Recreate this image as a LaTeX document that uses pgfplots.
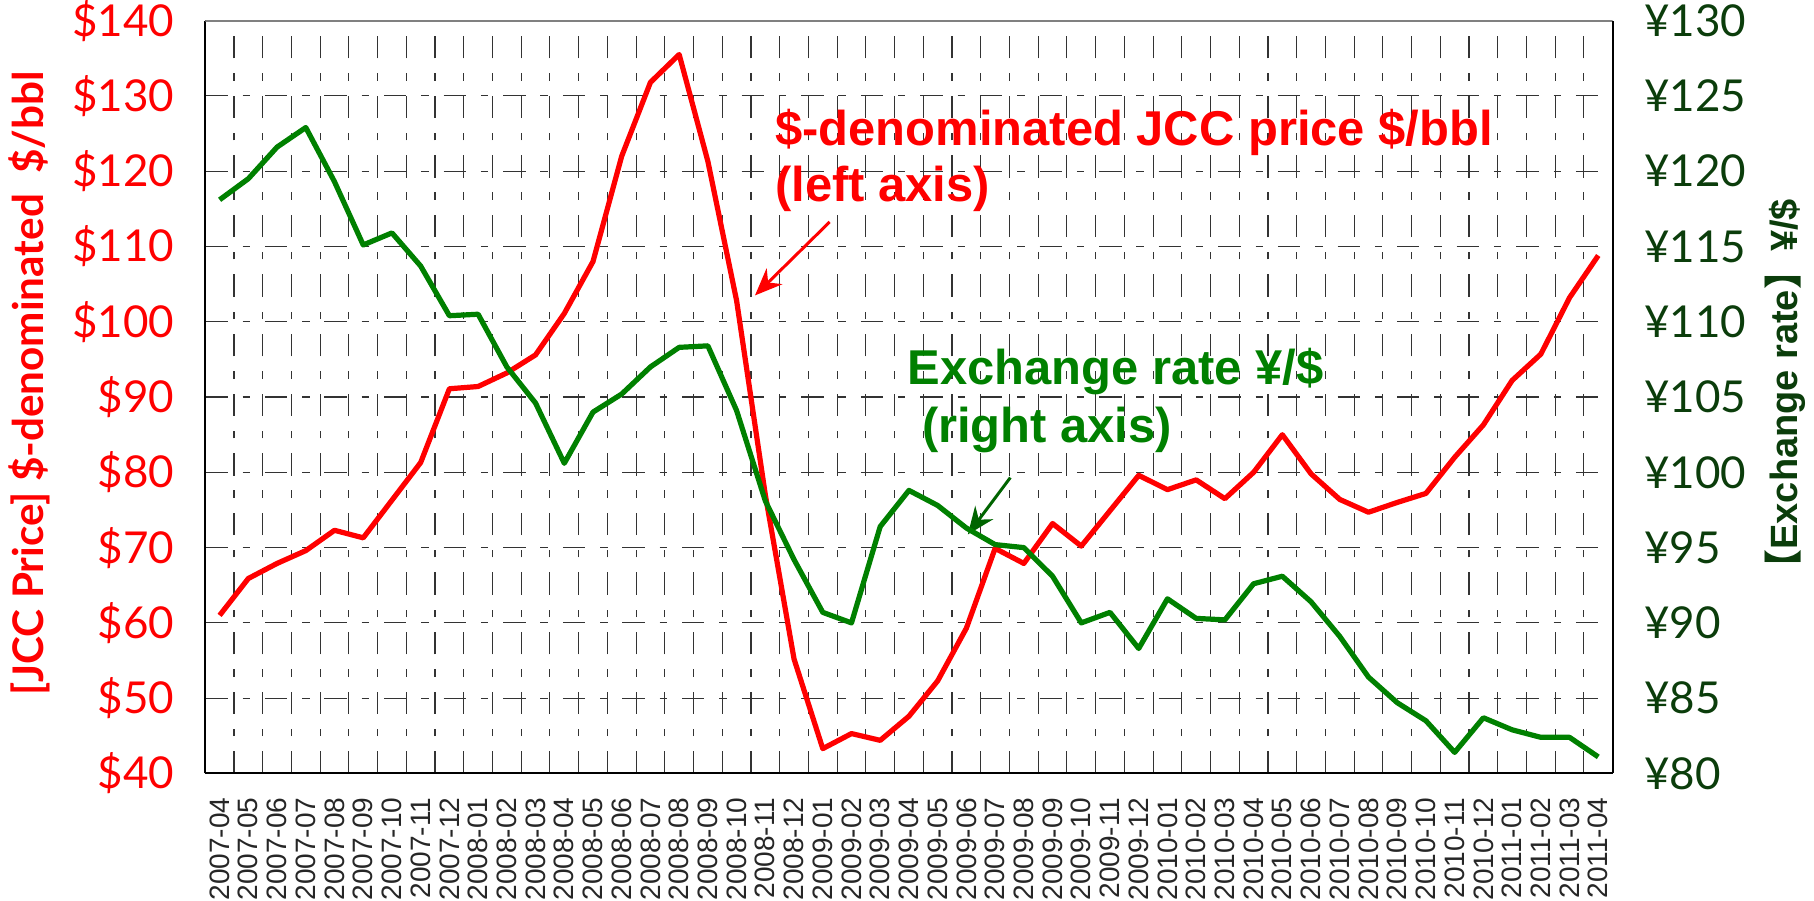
\documentclass[border=0pt]{standalone}
\usepackage{pgfplots}
\usepackage{pgfplotstable}
\pgfplotsset{compat=1.18}
\usetikzlibrary{arrows.meta}
\usepackage{fontspec}
\setmainfont{Liberation Sans}
\newfontfamily\lato{Lato}
\newfontfamily\cjk{Noto Sans CJK JP}
\definecolor{jccred}{HTML}{FF0000}
\definecolor{fxgreen}{HTML}{008000}
\definecolor{fxtick}{HTML}{0B3D0B}
\definecolor{fxarrow}{HTML}{006400}
\definecolor{gridc}{HTML}{333333}

% monthly JCC price ($/bbl) and yen/dollar rate
\pgfplotstableread{
idx month jcc fx
0 2007-04 61.0 118.1
1 2007-05 65.9 119.5
2 2007-06 67.9 121.6
3 2007-07 69.6 122.9
4 2007-08 72.3 119.3
5 2007-09 71.3 115.1
6 2007-10 76.3 115.9
7 2007-11 81.3 113.7
8 2007-12 91.1 110.4
9 2008-01 91.4 110.5
10 2008-02 93.2 107.0
11 2008-03 95.6 104.6
12 2008-04 101.1 100.6
13 2008-05 108.0 104.0
14 2008-06 122.0 105.2
15 2008-07 131.8 107.0
16 2008-08 135.5 108.3
17 2008-09 121.3 108.4
18 2008-10 102.8 104.1
19 2008-11 77.0 98.1
20 2008-12 55.2 94.2
21 2009-01 43.3 90.7
22 2009-02 45.3 90.0
23 2009-03 44.4 96.4
24 2009-04 47.6 98.8
25 2009-05 52.3 97.8
26 2009-06 59.3 96.3
27 2009-07 69.9 95.2
28 2009-08 67.9 95.0
29 2009-09 73.2 93.1
30 2009-10 70.2 90.0
31 2009-11 74.9 90.7
32 2009-12 79.6 88.3
33 2010-01 77.7 91.6
34 2010-02 79.0 90.3
35 2010-03 76.5 90.2
36 2010-04 80.0 92.6
37 2010-05 85.0 93.1
38 2010-06 79.8 91.4
39 2010-07 76.4 89.1
40 2010-08 74.7 86.4
41 2010-09 76.0 84.7
42 2010-10 77.2 83.5
43 2010-11 82.0 81.4
44 2010-12 86.3 83.7
45 2011-01 92.2 82.9
46 2011-02 95.7 82.4
47 2011-03 103.2 82.4
48 2011-04 108.8 81.1
}\data

\tikzset{gridline/.style={gridc, line width=0.45pt,
  dash pattern=on 9pt off 6pt on 3pt off 6pt},
  note/.style={anchor=base west, font=\bfseries\fontsize{19.7}{22.8}\selectfont}}

\begin{document}
\begin{tikzpicture}
\begin{axis}[
    scale only axis,
    width=566.8pt, height=303.2pt,
    xmin=-0.5, xmax=48.5,
    ymin=40, ymax=140,
    axis x line*=bottom,
    axis y line*=left,
    axis line style={black, line width=0.8pt},
    major tick length=0pt, minor tick length=0pt,
    xtick={0,...,48},
    xticklabels from table={\data}{month},
    xticklabel style={rotate=90, anchor=east, inner sep=0pt,
        font=\fontsize{11.3}{12}\selectfont, black!85},
    xticklabel shift=9.5pt,
    minor xtick={0.5,1.5,...,47.5},
    xminorgrids=true, xmajorgrids=false,
    ymajorgrids=true,
    minor grid style={gridline},
    major grid style={gridline},
    ytick={40,50,...,140},
    yticklabels={\$40,\$50,\$60,\$70,\$80,\$90,\$100,\$110,\$120,\$130,\$140},
    yticklabel style={font=\lato\fontsize{17.7}{18}\selectfont, jccred, inner ysep=0pt},
    yticklabel shift=9pt,
    ylabel={[JCC Price] \$-denominated\ \ \$/bbl},
    ylabel style={at={(axis description cs:-0.1253,0.518)}, anchor=center,
        font=\lato\bfseries\fontsize{17}{17}\selectfont, jccred},
]
\addplot[jccred, line width=2.1pt, line join=round] table[x=idx, y=jcc] {\data};
\draw[gray, line width=0.8pt] (rel axis cs:0,1) -- (rel axis cs:1,1);
\node[note, jccred] at (axis cs:19.04,123.4) {\$-denominated JCC price \$/bbl};
\node[note, jccred] at (axis cs:19.04,116.0) {(left axis)};
\draw[jccred, line width=1.2pt, -{Stealth[length=11pt, width=9pt]}]
    (axis cs:21.24,113.26) -- (axis cs:18.64,103.5);
\node[note, fxgreen] at (axis cs:23.64,91.6) {Exchange rate ¥/\$};
\node[note, fxgreen] at (axis cs:24.15,84.0) {(right axis)};
\draw[fxarrow, line width=1.2pt, -{Stealth[length=11pt, width=9pt]}]
    (axis cs:27.53,79.3) -- (axis cs:26.05,71.75);
\end{axis}

\begin{axis}[
    scale only axis,
    width=566.8pt, height=303.2pt,
    xmin=-0.5, xmax=48.5,
    ymin=80, ymax=130,
    axis x line=none,
    axis y line*=right,
    axis line style={black, line width=0.8pt},
    major tick length=0pt,
    ytick={80,85,...,130},
    yticklabels={¥80,¥85,¥90,¥95,¥100,¥105,¥110,¥115,¥120,¥125,¥130},
    yticklabel style={font=\lato\fontsize{17.7}{18}\selectfont, fxtick, anchor=west, inner ysep=0pt},
    yticklabel shift=9.3pt,
    ylabel={{\cjk\bfseries 【}Exchange rate{\cjk\bfseries 】}¥/\$},
    ylabel style={at={(axis description cs:1.1228,0.505)}, anchor=center, rotate=0,
        font=\bfseries\fontsize{15.3}{16}\selectfont, fxtick},
]
\addplot[fxgreen, line width=2.1pt, line join=round] table[x=idx, y=fx] {\data};
\end{axis}
\end{tikzpicture}
\end{document}
